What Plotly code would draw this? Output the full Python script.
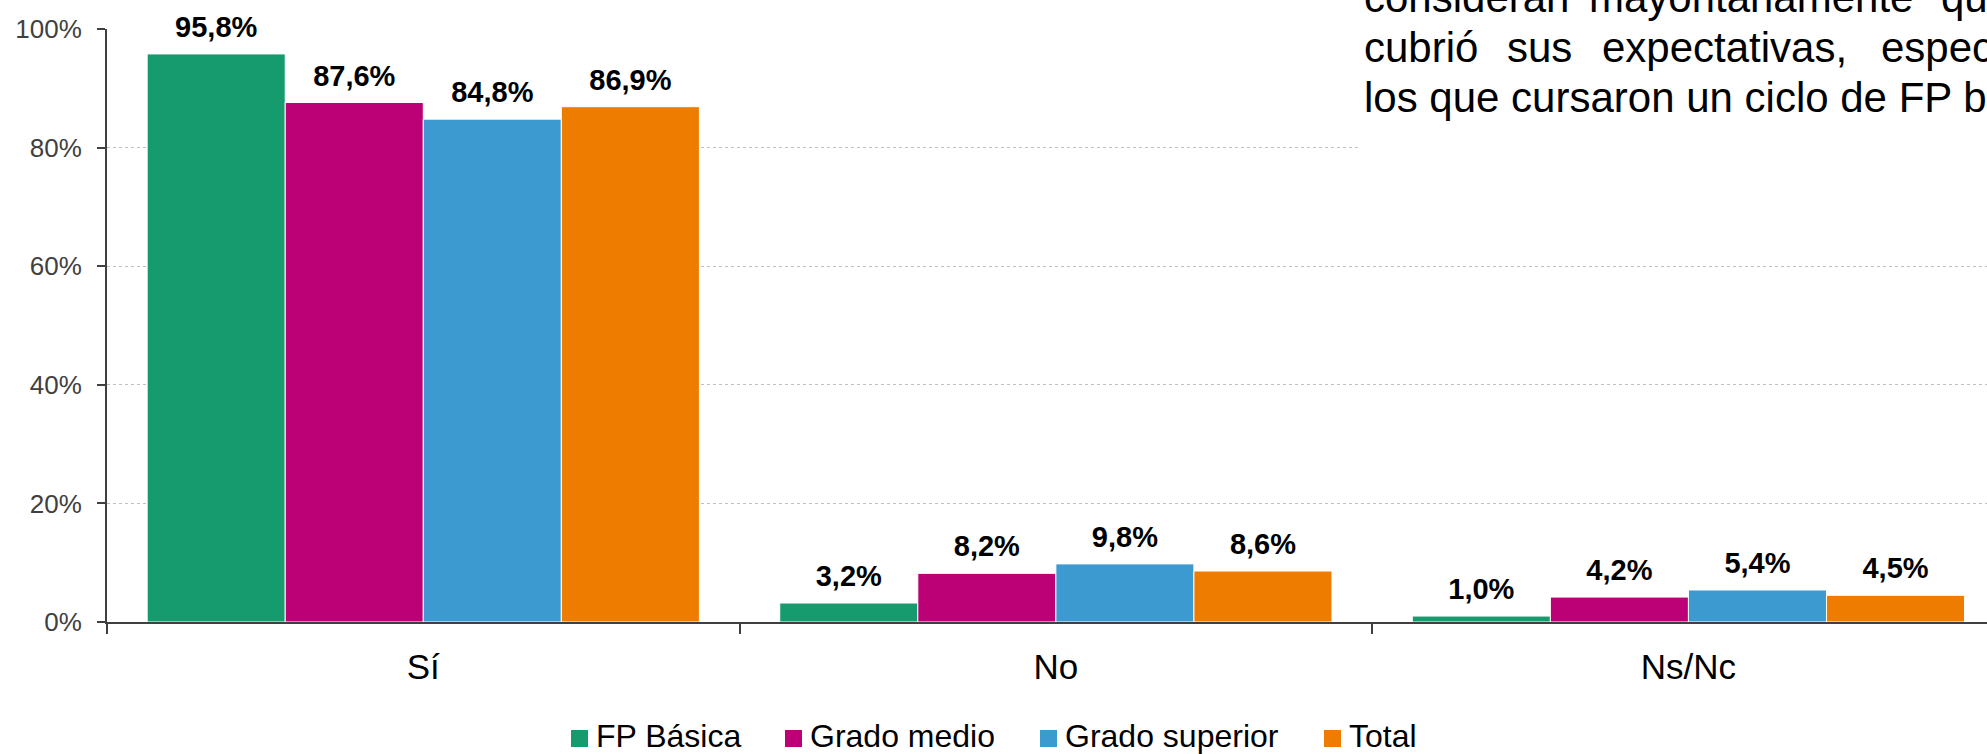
import plotly.graph_objects as go

# datos
categorias = ["Sí", "No", "Ns/Nc"]
series = ["FP Básica", "Grado medio", "Grado superior", "Total"]
fp_basica = [95.8, 3.2, 1.0]
grado_medio = [87.6, 8.2, 4.2]
grado_superior = [84.8, 9.8, 5.4]
total = [86.9, 8.6, 4.5]
valores = [fp_basica, grado_medio, grado_superior, total]
colores = ["#169B6E", "#BC0075", "#3D9AD0", "#EE7C00"]
y_ticks = [0, 20, 40, 60, 80, 100]
y_ticktext = ["0%", "20%", "40%", "60%", "80%", "100%"]

# texto del párrafo (recortado por el borde de la imagen)
linea_0 = ["consideran", "mayoritariamente", "que la"]
linea_1 = ["cubrió", "sus", "expectativas,", "especialmente"]
linea_2 = "los que cursaron un ciclo de FP básica"

FONT = "Liberation Sans, Arial, sans-serif"
W_FIG, H_FIG = 1987, 754
L, T = 107, 29
W, H = W_FIG - L, 593


def px_x(px):
    return (px - L) / W


def px_y(py):
    return (T + H - py) / H


def etiqueta(v):
    return f"{v:.1f}%".replace(".", ",")


fig = go.Figure()

for i, (nombre, vals) in enumerate(zip(series, valores)):
    fig.add_trace(go.Bar(
        x=categorias, y=vals, name=nombre,
        marker=dict(color=colores[i], line=dict(color="white", width=1)),
        offsetgroup=str(i), showlegend=False, hoverinfo="skip",
    ))

for i, (nombre, vals) in enumerate(zip(series, valores)):
    fig.add_trace(go.Scatter(
        x=categorias, y=vals, mode="markers+text",
        text=[etiqueta(v) for v in vals], textposition="top center",
        textfont=dict(family=FONT, size=29, color="black", weight="bold"),
        marker=dict(size=14, opacity=0),
        offsetgroup=str(i), showlegend=False, cliponaxis=False, hoverinfo="skip",
    ))

# caja blanca del texto que tapa la rejilla
shapes = [dict(
    type="rect", xref="paper", yref="paper", layer="above",
    x0=px_x(1358), x1=px_x(2000), y0=px_y(200), y1=px_y(-20),
    fillcolor="white", line=dict(width=0),
)]

annotations = []
for palabra, xp in zip(linea_0, [1362, 1587, 1939]):
    annotations.append(dict(text=palabra, x=px_x(xp), y=px_y(12 - 14.6)))
for palabra, xp in zip(linea_1, [1362, 1505, 1600, 1879]):
    annotations.append(dict(text=palabra, x=px_x(xp), y=px_y(62 - 14.6)))
annotations.append(dict(text=linea_2, x=px_x(1362), y=px_y(112 - 14.6)))
for a in annotations:
    a.update(xref="paper", yref="paper", xanchor="left", yanchor="middle",
             showarrow=False, font=dict(family=FONT, size=42, color="black"))

# leyenda dibujada a mano
leyenda_x = [571, 785, 1040, 1324]
for nombre, color, xp in zip(series, colores, leyenda_x):
    shapes.append(dict(
        type="rect", xref="paper", yref="paper",
        x0=px_x(xp), x1=px_x(xp + 17), y0=px_y(747), y1=px_y(730),
        fillcolor=color, line=dict(width=0),
    ))
    annotations.append(dict(
        text=nombre, x=px_x(xp + 23), y=px_y(747 - 11),
        xref="paper", yref="paper", xanchor="left", yanchor="middle",
        showarrow=False, font=dict(family=FONT, size=32, color="black"),
    ))

fig.update_layout(
    width=W_FIG, height=H_FIG, autosize=False,
    margin=dict(l=L, r=0, t=T, b=H_FIG - T - H, pad=0),
    paper_bgcolor="white", plot_bgcolor="white",
    font=dict(family=FONT),
    barmode="group", bargap=0.127, bargroupgap=0,
    scattermode="group", scattergap=0.127,
    showlegend=False,
    shapes=shapes, annotations=annotations,
)

fig.update_xaxes(
    type="category", range=[-0.5, 2.472],
    showline=True, linecolor="#404040", linewidth=2,
    ticks="outside", tickson="boundaries", ticklen=10, tickwidth=2, tickcolor="#404040",
    tickfont=dict(family=FONT, size=35, color="black"),
    ticklabelstandoff=13,
    showgrid=False,
)
fig.update_yaxes(
    range=[0, 100], tickvals=y_ticks, ticktext=y_ticktext,
    showline=True, linecolor="#404040", linewidth=2,
    ticks="outside", ticklen=8, tickwidth=2, tickcolor="#404040",
    tickfont=dict(family=FONT, size=26, color="#404040"),
    ticklabelstandoff=10,
    showgrid=True, gridcolor="#BFBFBF", griddash="dot", gridwidth=1,
    zeroline=False,
)

# sin márgenes en la página para que la figura ocupe toda la ventana
fig.write_html("out.html", config={"displayModeBar": False},
               post_script="document.body.style.margin='0';")
